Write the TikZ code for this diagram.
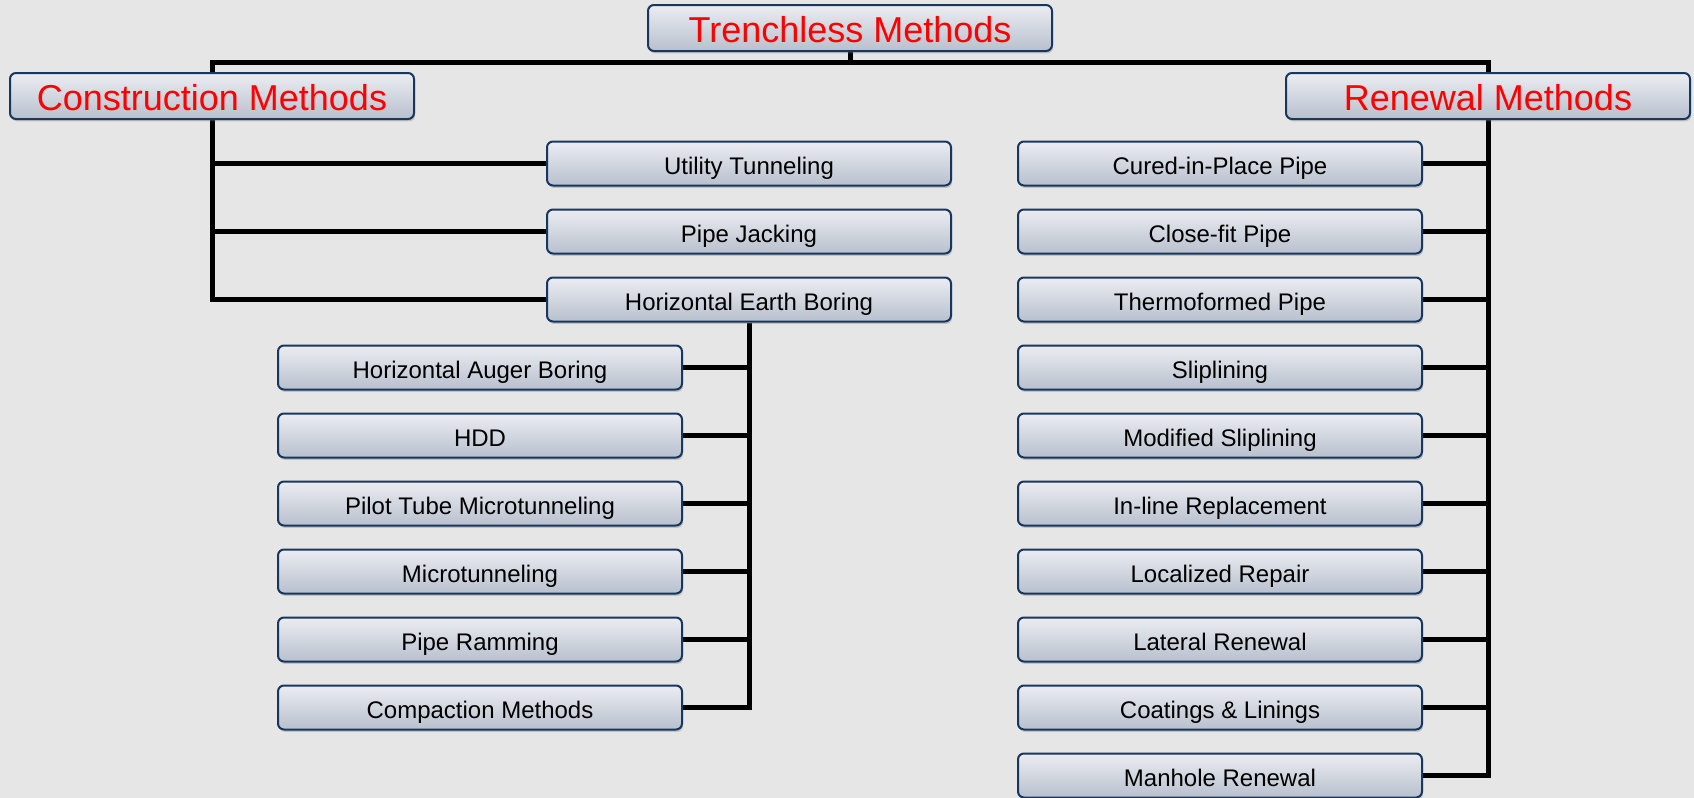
\documentclass[tikz,border=0pt]{standalone}
\usepackage{fontspec}
\setmainfont{Liberation Sans}
\usetikzlibrary{shadows,backgrounds}
\definecolor{boxborder}{HTML}{17375E}
\definecolor{boxtop}{HTML}{EBEDF1}
\definecolor{boxbottom}{HTML}{B8C0CE}
\definecolor{slidegray}{HTML}{E6E6E6}

\begin{document}
\begin{tikzpicture}
		[x=0.5pt, y=-0.5pt,
		method/.style={
			rectangle,
			rounded corners=3pt,
			draw=boxborder,
			line width=1pt,
			top color=boxtop,
			bottom color=boxbottom,
			drop shadow={shadow xshift=0.6pt, shadow yshift=-1.2pt, opacity=0.35},
			inner sep=0pt,
			minimum height=22pt,
			minimum width=202pt,
			text height=10.6pt,
			text depth=0pt,
			font=\fontsize{12}{14}\selectfont
		},
		heading/.style={method, minimum height=23pt, text height=14pt, text=red, font=\fontsize{18}{20}\selectfont},
		branch/.style={line width=2.5pt}]
		\useasboundingbox (0,0) rectangle (1694,798);
		% top level
		\node[heading] (root) at (850,28) {Trenchless Methods};
		\node[heading] (constr) at (212,96) {Construction Methods};
		\node[heading] (renew) at (1488,96) {Renewal Methods};
		\coordinate (bar) at (850,62);
		% construction side
		\node[method] (util) at (749,163.5) {Utility Tunneling};
		\node[method] (jack) at (749,231.5) {Pipe Jacking};
		\node[method] (heb) at (749,299.5) {Horizontal Earth Boring};
		\node[method] (aug) at (480,367.5) {Horizontal Auger Boring};
		\node[method] (hdd) at (480,435.5) {HDD};
		\node[method] (ptmt) at (480,503.5) {Pilot Tube Microtunneling};
		\node[method] (mtbm) at (480,571.5) {Microtunneling};
		\node[method] (ram) at (480,639.5) {Pipe Ramming};
		\node[method] (compact) at (480,707.5) {Compaction Methods};
		% renewal side
		\node[method] (cipp) at (1220,163.5) {Cured-in-Place Pipe};
		\node[method] (closefit) at (1220,231.5) {Close-fit Pipe};
		\node[method] (thermo) at (1220,299.5) {Thermoformed Pipe};
		\node[method] (slip) at (1220,367.5) {Sliplining};
		\node[method] (modslip) at (1220,435.5) {Modified Sliplining};
		\node[method] (inline) at (1220,503.5) {In-line Replacement};
		\node[method] (localrep) at (1220,571.5) {Localized Repair};
		\node[method] (lateral) at (1220,639.5) {Lateral Renewal};
		\node[method] (coat) at (1220,707.5) {Coatings \& Linings};
		\node[method] (manhole) at (1220,775.5) {Manhole Renewal};
		\begin{scope}[on background layer]
			\fill[slidegray] (0,0) rectangle (1694,798);
			\draw[branch] (root) -- (bar);
			\draw[branch] (constr) |- (bar) -| (renew);
			\draw[branch] (constr) |- (util.west);
			\draw[branch] (constr) |- (jack.west);
			\draw[branch] (constr) |- (heb.west);
			\draw[branch] (heb) |- (aug.east);
			\draw[branch] (heb) |- (hdd.east);
			\draw[branch] (heb) |- (ptmt.east);
			\draw[branch] (heb) |- (mtbm.east);
			\draw[branch] (heb) |- (ram.east);
			\draw[branch] (heb) |- (compact.east);
			\draw[branch] (renew) |- (cipp.east);
			\draw[branch] (renew) |- (closefit.east);
			\draw[branch] (renew) |- (thermo.east);
			\draw[branch] (renew) |- (slip.east);
			\draw[branch] (renew) |- (modslip.east);
			\draw[branch] (renew) |- (inline.east);
			\draw[branch] (renew) |- (localrep.east);
			\draw[branch] (renew) |- (lateral.east);
			\draw[branch] (renew) |- (coat.east);
			\draw[branch] (renew) |- (manhole.east);
		\end{scope}
	\end{tikzpicture}
\end{document}
